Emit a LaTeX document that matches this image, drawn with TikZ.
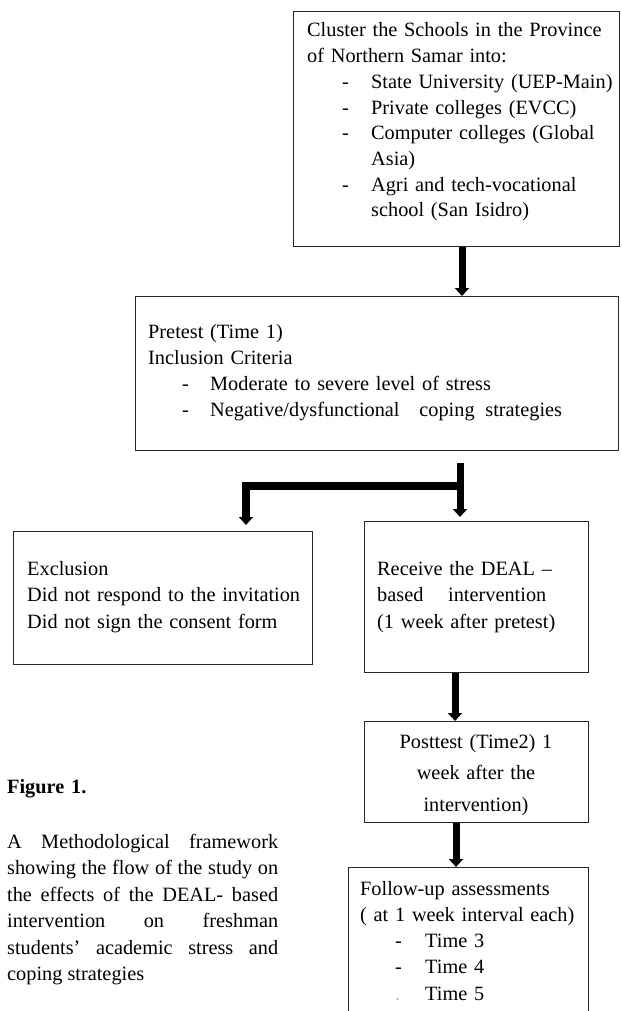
\documentclass[tikz,border=0pt]{standalone}
\usepackage{fontspec}
\setmainfont{Liberation Serif}
\usetikzlibrary{arrows.meta}
\tikzset{
  box/.style={draw=black!85, line width=1.2pt, inner sep=0pt, anchor=north west},
  txt/.style={inner sep=0pt, anchor=base west, align=left, text width=#1},
  flow/.style={line width=7pt, -{Triangle[width=14pt,length=8pt]}, line join=miter},
}
\newcommand{\dashitem}[3]{\hspace*{#1}\makebox[#2][l]{-}#3}
\begin{document}
\begin{tikzpicture}[x=1pt, y=-1pt, font=\fontsize{20.3}{26}\selectfont]
\useasboundingbox (0,0) rectangle (621,1011);
\clip (0,0) rectangle (621,1011);
% boxes
\node[box, minimum width=326pt, minimum height=235pt] (b1) at (293,11) {};
\node[box, minimum width=483pt, minimum height=154pt] (b2) at (135,296) {};
\node[box, minimum width=299pt, minimum height=133pt] (excl) at (13,531) {};
\node[box, minimum width=224pt, minimum height=151pt] (recv) at (364,521) {};
\node[box, minimum width=224pt, minimum height=101pt] (post) at (364,721) {};
\node[box, minimum width=240pt, minimum height=180pt] (fu) at (348,867) {};
% texts
\node[txt=310pt, font=\fontsize{20.3}{25.7}\selectfont] (t1) at (307,37) {Cluster the Schools in the Province\\
of Northern Samar into:\\
\dashitem{35pt}{29pt}{State University (UEP-Main)}\\
\dashitem{35pt}{29pt}{Private colleges (EVCC)}\\
\dashitem{35pt}{29pt}{Computer colleges (Global}\\
\hspace*{64pt}Asia)\\
\dashitem{35pt}{29pt}{Agri and tech-vocational}\\
\hspace*{64pt}school (San Isidro)};
\node[txt=460pt, font=\fontsize{20.3}{26.3}\selectfont] (t2) at (148,338) {Pretest (Time 1)\\
Inclusion Criteria\\
\dashitem{34pt}{28pt}{Moderate to severe level of stress}\\
\dashitem{34pt}{28pt}{Negative/dysfunctional\hspace{13pt} coping\hspace{4pt} strategies}};
\node[txt=285pt, font=\fontsize{20.3}{26.5}\selectfont] (t3) at (27,575) {Exclusion\\
Did not respond to the invitation\\
Did not sign the consent form};
\node[txt=210pt, font=\fontsize{20.3}{26.5}\selectfont] (t4) at (377,575) {Receive the DEAL –\\
based\hspace{18pt} intervention\\
(1 week after pretest)};
\node[inner sep=0pt, anchor=base, align=center, text width=220pt, font=\fontsize{20.3}{31.5}\selectfont] (t5) at (476,748) {Posttest (Time2) 1\\
week after the\\
intervention)};
\node[txt=235pt, font=\fontsize{20.3}{26.3}\selectfont] (t6) at (360,895) {Follow-up assessments\\
( at 1 week interval each)\\
\dashitem{35pt}{30pt}{Time 3}\\
\dashitem{35pt}{30pt}{Time 4}\\
\hspace*{35pt}\makebox[30pt][l]{\textcolor{black!25}{.}}Time 5};
\node[txt=200pt] (fig) at (7,793) {\textbf{Figure 1.}};
\node[inner sep=0pt, anchor=base west, align=justify, text width=271pt, font=\fontsize{20.3}{26.5}\selectfont] (cap) at (7,848) {A Methodological framework\linebreak
showing the flow of the study on\linebreak
the effects of the DEAL- based\linebreak
intervention on freshman\linebreak
students’ academic stress and\linebreak
coping strategies};
% connectors
\coordinate (c1) at (462,0);
\draw[flow] (b1.south -| c1) -- (b2.north -| c1);
\coordinate (s) at (460,463);
\coordinate (j) at (460,486);
\coordinate (lx) at (246,0);
\draw[flow, shorten >=4pt] (s) -- (recv.north -| s);
\draw[flow, line width=8pt, shorten >=6pt] (j) -| (excl.north -| lx);
\coordinate (c3) at (455,0);
\draw[flow] (recv.south -| c3) -- (post.north -| c3);
\coordinate (c4) at (456,0);
\draw[flow] (post.south -| c4) -- (fu.north -| c4);
\end{tikzpicture}
\end{document}
